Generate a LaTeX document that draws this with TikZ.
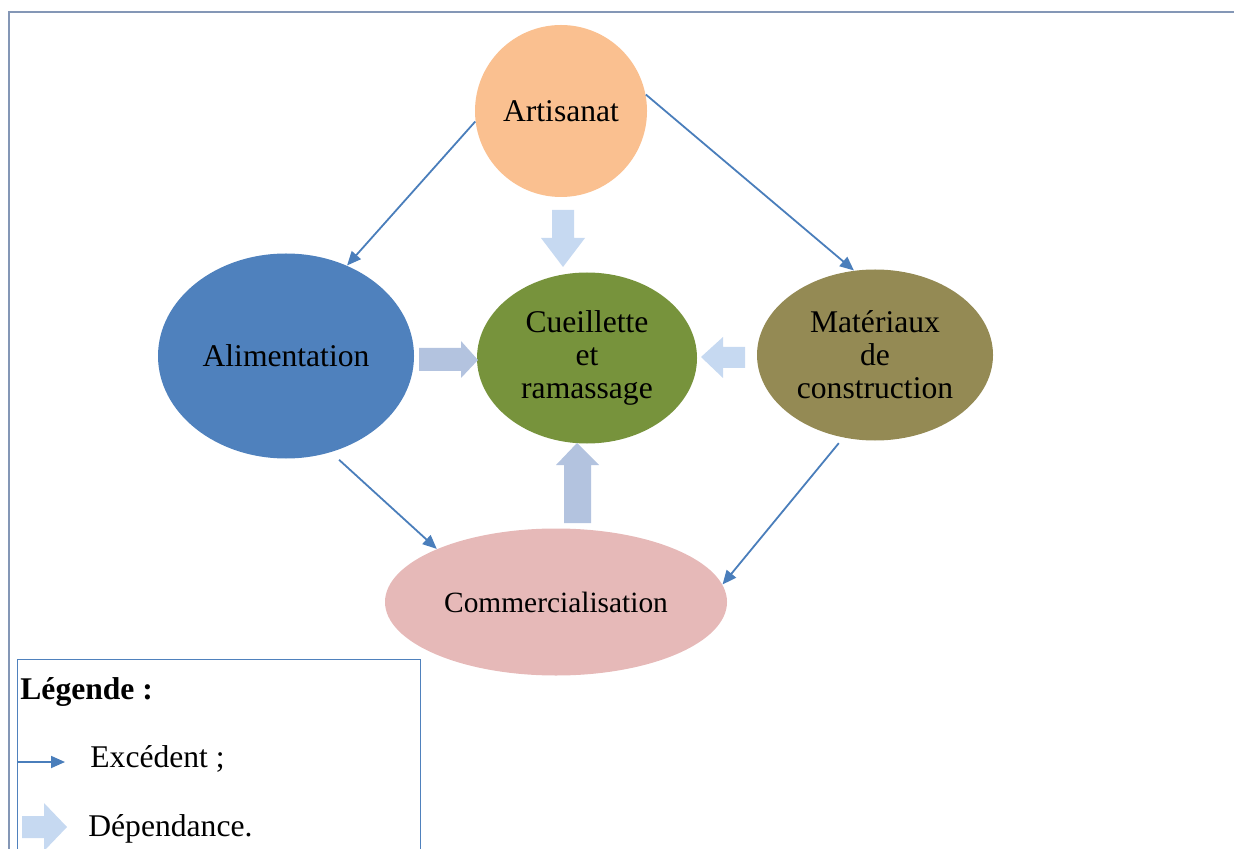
\documentclass[tikz,border=0pt]{standalone}
\usepackage{fontspec}
\setmainfont{Liberation Serif}
\usetikzlibrary{arrows.meta,calc,shapes.geometric}
\definecolor{artC}{HTML}{FAC090}
\definecolor{aliC}{HTML}{4F81BD}
\definecolor{cueC}{HTML}{77933C}
\definecolor{matC}{HTML}{948A54}
\definecolor{comC}{HTML}{E6B9B8}
\definecolor{lineC}{HTML}{4A7EBB}
\definecolor{depLight}{HTML}{C6D9F1}
\definecolor{depDark}{HTML}{B3C3DF}
\definecolor{frameC}{HTML}{8497B6}
\tikzset{
  every node/.style={font=\fontsize{15.8}{16.5}\selectfont},
  exc/.style={draw=lineC, line width=0.9pt, -{Triangle[length=7pt,width=6pt]}},
  dep/.style={fill=depLight, draw=none},
  depd/.style={fill=depDark, draw=none},
  legtext/.style={anchor=west, inner sep=0pt},
}
\begin{document}
\begin{tikzpicture}[x=0.5pt,y=-0.5pt]
\useasboundingbox (0,0) rectangle (1234,849);
% outer frame
\draw[frameC, line width=1pt] (9,849) -- (9,12) -- (1234,12);

% activities
\node[circle, inner sep=0pt, minimum size=86pt, fill=artC] (art) at (561,111) {Artisanat};
\node[ellipse, inner sep=0pt, minimum width=128pt, minimum height=102.5pt, fill=aliC] (ali) at (286,356) {Alimentation};
\node[ellipse, inner sep=0pt, minimum width=110pt, minimum height=85.5pt, fill=cueC, align=center] (cue) at (587,358) {Cueillette\\et\\ramassage};
\node[ellipse, inner sep=0pt, minimum width=118pt, minimum height=85.5pt, fill=matC, align=center] (mat) at (875,355) {Matériaux\\de\\construction};
\node[ellipse, inner sep=0pt, minimum width=171pt, minimum height=73.5pt, fill=comC, font=\fontsize{14.7}{16}\selectfont] (com) at (556,602) {Commercialisation};

% surplus flows
\draw[exc] (art.187) -- (ali.56);
\draw[exc] (art.11) -- (mat.104);
\draw[exc, shorten <=5.5pt] (ali.-65.6) -- (com.156);
\draw[exc, shorten <=3.5pt] (mat.-111.5) -- (com.6.6);

% dependence arrows toward the gathering activity
\fill[dep] (552,210) -- (574,210) -- (574,238) -- (585,238) -- (563,267) -- (541,238) -- (552,238) -- cycle;
\fill[depd] (419,348) -- (461,348) -- (461,341) -- (478,360) -- (461,378) -- (461,371) -- (419,371) -- cycle;
\fill[dep] (745,347) -- (723,347) -- (723,337) -- (701,357) -- (723,378) -- (723,368) -- (745,368) -- cycle;
\fill[depd] (564,523) -- (564,465) -- (556,465) -- (577,443) -- (599,465) -- (591,465) -- (591,523) -- cycle;

% legend
\draw[aliC, line width=0.5pt] (17,849) -- (17,659) -- (420,659) -- (420,849);
\node[legtext, font=\fontsize{15.8}{16.5}\selectfont\bfseries] (legt) at (20,692) {Légende :};
\coordinate (lxa) at (17,762);
\coordinate (lxb) at (65,762);
\draw[exc] (lxa) -- (lxb);
\node[legtext] (lexc) at (90,759) {Excédent ;};
\fill[dep] (22,816) -- (44,816) -- (44,803) -- (67,827) -- (44,851) -- (44,838) -- (22,838) -- cycle;
\node[legtext] (ldep) at (88,829) {Dépendance.};
\end{tikzpicture}
\end{document}
